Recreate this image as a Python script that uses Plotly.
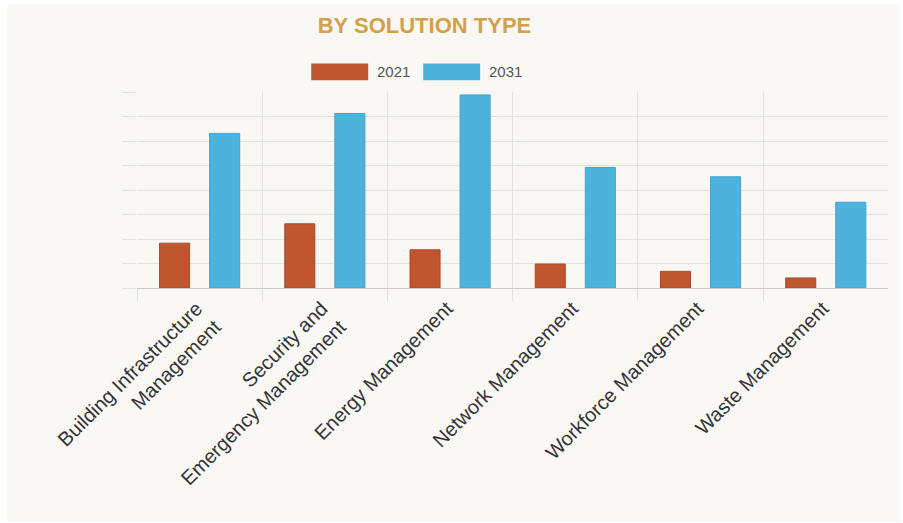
import plotly.graph_objects as go

categories = [
    "Building Infrastructure<br>Management",
    "Security and<br>Emergency Management",
    "Energy Management",
    "Network Management",
    "Workforce Management",
    "Waste Management",
]
values_2021 = [1.83, 2.62, 1.56, 0.98, 0.68, 0.41]
values_2031 = [6.31, 7.12, 7.88, 4.92, 4.54, 3.50]
series_names = ["2021", "2031"]
colors = ["#C0562F", "#4DB3DC"]

W, H = 903, 523
L, R, T, B = 136.7, 888.0, 91.7, 288.3

def px(x):
    return (x - L) / (R - L)

def py(y):
    return (B - y) / (B - T)

fig = go.Figure()
for name, vals, c, lc in zip(series_names, [values_2021, values_2031], colors, ["#A94A27", "#3FA3CC"]):
    fig.add_trace(go.Bar(x=categories, y=vals, name=name, marker=dict(color=c, line=dict(color=lc, width=1)),
                         showlegend=False))

grid = "#E2E2E0"
font_family = "Liberation Sans, Arial, sans-serif"

shapes = [
    dict(type="rect", xref="paper", yref="paper", x0=px(7), x1=px(900), y0=py(522), y1=py(4),
         fillcolor="#F9F8F5", line=dict(width=0), layer="below"),
]
annotations = []
# custom legend
leg = [(311, 368, 375), (423, 480, 487)]
for (x0, x1, tx), name, c in zip(leg, series_names, colors):
    shapes.append(dict(type="rect", xref="paper", yref="paper", x0=px(x0), x1=px(x1), y0=py(80), y1=py(63),
                       fillcolor=c, line=dict(width=0)))
    annotations.append(dict(text=name, xref="paper", yref="paper", x=px(tx), y=py(71.5), xanchor="left",
                            yanchor="middle", showarrow=False, font=dict(size=15, color="#555555", family=font_family)))

fig.update_layout(
    width=W, height=H,
    margin=dict(l=L, r=W - R, t=T, b=H - B, pad=0),
    paper_bgcolor="white",
    plot_bgcolor="rgba(0,0,0,0)",
    barmode="group", bargap=0.2, bargroupgap=0.4,
    title=dict(text="<b>BY SOLUTION TYPE</b>", x=424.5 / W, xanchor="center", xref="container",
               y=1 - 25 / H, yanchor="middle", yref="container",
               font=dict(size=22, color="#D4A04A", family=font_family)),
    shapes=shapes, annotations=annotations,
    font=dict(family=font_family),
    xaxis=dict(tickson="boundaries", ticks="outside", ticklen=12, tickcolor=grid, tickwidth=1,
               showgrid=True, gridcolor=grid, gridwidth=1, tickangle=-45,
               range=[-0.5, 5.497], ticklabelshift=-3, ticklabelstandoff=4,
               tickfont=dict(size=20, color="#333333", family=font_family),
               showline=False, fixedrange=True),
    yaxis=dict(range=[0, 8], dtick=1, showticklabels=False, ticks="outside", ticklen=14, tickcolor=grid,
               showgrid=True, gridcolor=grid, zeroline=True, zerolinecolor="#C9C9C7", zerolinewidth=1,
               showline=False, fixedrange=True),
)

fig.write_html("out.html")
